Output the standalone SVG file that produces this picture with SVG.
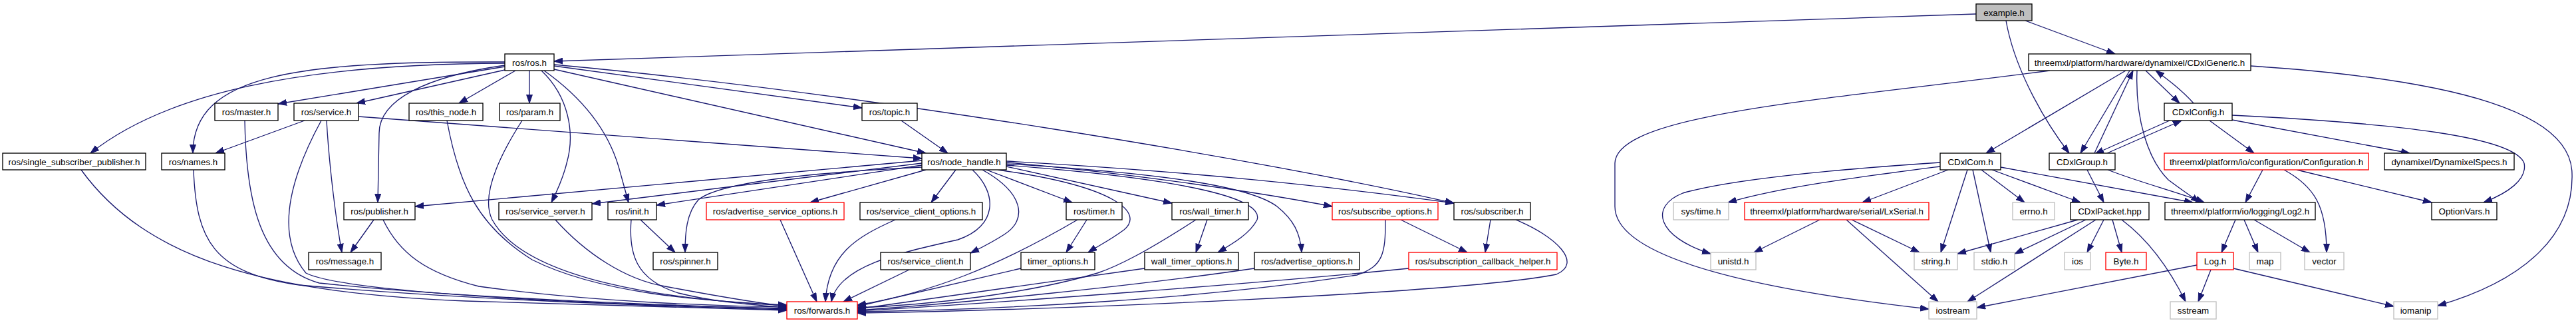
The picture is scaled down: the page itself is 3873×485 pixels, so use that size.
<svg xmlns="http://www.w3.org/2000/svg" width="3873" height="485" viewBox="0 0 3873 485">
<style>
.n rect{fill:#fff;stroke:#000;stroke-width:1.33}
.n.r rect{stroke:#f00}
.n.g rect{stroke:#bfbfbf}
.n.s rect{fill:#bfbfbf}
text{font-family:"Liberation Sans",Arial,Helvetica,sans-serif;font-size:13.33px;text-anchor:middle;fill:#000}
#edges path{fill:none;stroke:#191970;stroke-width:1.33;marker-end:url(#a)}
</style>
<defs>
<marker id="a" markerUnits="userSpaceOnUse" markerWidth="14" markerHeight="10" refX="13" refY="5" orient="auto"><path d="M0,0.5 L13,5 L0,9.5 z" fill="#191970" stroke="#191970" stroke-width="1"/></marker>
</defs>
<rect width="3873" height="485" fill="#fff"/>
<g id="edges">
<path d="M2971,21 L833,92"/>
<path d="M3045,31 L3180,81"/>
<path d="M3016,31 C3030,110 3080,190 3111,230"/>
<path d="M759,93 C450,92 290,110 290,230"/>
<path d="M759,95 C450,96 250,140 136,230"/>
<path d="M759,100 L418,156"/>
<path d="M759,105 L536,155"/>
<path d="M775,106 L690,155"/>
<path d="M796,106 L796,155"/>
<path d="M759,98 C640,115 570,150 570,200 L568,304"/>
<path d="M814,106 C855,145 865,200 852,245 C846,270 836,290 829,304"/>
<path d="M818,106 C880,150 915,200 930,250 C937,275 941,290 945,304"/>
<path d="M833,99 L1296,162"/>
<path d="M833,104 L1392,230"/>
<path d="M833,97 C1300,140 1900,240 2186,305"/>
<path d="M458,181 L324,230"/>
<path d="M539,175 L1386,238"/>
<path d="M491,181 C495,250 505,330 514,379"/>
<path d="M483,181 C440,260 410,350 460,410 C520,440 900,458 1183,463"/>
<path d="M1355,181 L1425,230"/>
<path d="M122,255 C220,390 400,440 700,452 C900,458 1100,463 1183,466"/>
<path d="M291,255 C295,360 320,410 450,428 C700,450 1000,460 1183,465"/>
<path d="M368,181 C370,300 390,400 480,425 C700,448 1000,458 1183,464"/>
<path d="M672,181 C690,280 720,340 800,390 C900,440 1050,452 1183,458"/>
<path d="M785,181 C760,220 720,290 740,330 C790,420 1000,450 1183,459"/>
<path d="M562,330 L527,379"/>
<path d="M576,330 C600,380 640,410 720,430 C900,455 1100,460 1183,461"/>
<path d="M835,330 C880,380 940,420 1000,430 C1080,445 1140,455 1183,460"/>
<path d="M949,330 C945,380 955,420 1020,440 C1080,455 1140,458 1183,462"/>
<path d="M963,330 L1015,379"/>
<path d="M1386,241 L624,310"/>
<path d="M1386,245 L890,306"/>
<path d="M1386,248 L987,308"/>
<path d="M1386,251 C1200,260 1080,275 1050,300 C1032,320 1030,350 1030,379"/>
<path d="M1392,255 L1218,304"/>
<path d="M1437,255 L1400,304"/>
<path d="M1477,255 C1540,290 1545,330 1510,352 C1490,365 1475,372 1459,380"/>
<path d="M1483,255 L1612,304"/>
<path d="M1500,255 C1680,280 1720,320 1690,345 C1670,360 1650,370 1636,379"/>
<path d="M1513,250 L1762,305"/>
<path d="M1513,248 C1800,270 1900,300 1890,330 C1880,350 1855,365 1831,379"/>
<path d="M1513,246 C1750,260 1880,280 1920,310 C1945,330 1955,350 1957,379"/>
<path d="M1513,244 C1700,260 1900,290 2003,310"/>
<path d="M1513,242 C1800,258 2000,280 2186,305"/>
<path d="M1462,255 C1500,290 1500,340 1440,360 C1350,380 1260,400 1250,453"/>
<path d="M1173,330 L1228,453"/>
<path d="M1346,330 C1290,355 1245,380 1241,453"/>
<path d="M1367,405 L1268,453"/>
<path d="M1634,330 L1603,379"/>
<path d="M1620,330 C1500,400 1400,440 1289,458"/>
<path d="M1815,330 L1798,379"/>
<path d="M1798,330 C1720,380 1680,400 1650,410 C1550,440 1400,458 1289,462"/>
<path d="M1535,403 L1289,460"/>
<path d="M1721,403 L1289,464"/>
<path d="M1886,403 C1700,430 1450,455 1289,466"/>
<path d="M2083,330 C2083,380 2080,400 2040,413 C1800,450 1500,465 1289,468"/>
<path d="M2106,330 L2206,379"/>
<path d="M2241,330 L2233,379"/>
<path d="M2279,330 C2340,355 2380,395 2340,412 C2200,440 1600,465 1289,470"/>
<path d="M2118,403 C1900,425 1500,455 1289,467"/>
<path d="M3196,106 L2986,230"/>
<path d="M3202,106 L3128,230"/>
<path d="M3149,230 L3207,106"/>
<path d="M3226,106 L3277,155"/>
<path d="M3298,155 C3280,135 3260,120 3241,106"/>
<path d="M3082,106 C2750,150 2430,170 2428,245 L2428,310 C2428,380 2600,430 2900,464"/>
<path d="M3384,99 C3700,120 3865,170 3867,260 C3870,350 3800,420 3665,459"/>
<path d="M3213,106 C3210,180 3230,240 3260,270 C3280,285 3295,295 3307,304"/>
<path d="M2917,250 C2800,265 2680,280 2598,304"/>
<path d="M2917,244 C2750,255 2600,270 2530,290 C2480,310 2490,355 2572,381"/>
<path d="M2929,255 L2800,304"/>
<path d="M2958,255 L2918,379"/>
<path d="M2966,255 L2993,379"/>
<path d="M2979,255 L3044,304"/>
<path d="M2995,255 L3128,304"/>
<path d="M3008,251 L3297,304"/>
<path d="M3138,255 L3163,304"/>
<path d="M3169,255 C3220,275 3280,290 3314,304"/>
<path d="M3168,230 L3280,181"/>
<path d="M3262,181 L3150,231"/>
<path d="M3322,181 L3389,230"/>
<path d="M3356,180 L3623,230"/>
<path d="M3356,173 C3600,185 3780,205 3795,245 C3800,270 3770,290 3734,304"/>
<path d="M3402,255 L3376,304"/>
<path d="M3434,255 C3480,280 3498,310 3498,379"/>
<path d="M3453,255 L3656,304"/>
<path d="M3361,330 L3340,379"/>
<path d="M3374,330 L3395,379"/>
<path d="M3389,330 L3473,379"/>
<path d="M3124,330 L2943,381"/>
<path d="M3136,330 L3029,381"/>
<path d="M3163,330 L3138,379"/>
<path d="M3176,330 L3190,379"/>
<path d="M3151,330 L2958,453"/>
<path d="M3190,330 C3230,360 3260,400 3286,453"/>
<path d="M2736,330 L2637,379"/>
<path d="M2776,330 L2914,453"/>
<path d="M2784,330 L2886,379"/>
<path d="M3324,405 L3305,453"/>
<path d="M3358,403 L3599,460"/>
<path d="M3303,398 L2972,462"/>
</g>
<g id="n_example" class="n s"><rect x="2971" y="6" width="84" height="25"/><text x="3013" y="23.5">example.h</text></g>
<g id="n_ros" class="n"><rect x="759" y="81" width="74" height="25"/><text x="796" y="98.5">ros/ros.h</text></g>
<g id="n_generic" class="n"><rect x="3050" y="81" width="334" height="25"/><text x="3217" y="98.5">threemxl/platform/hardware/dynamixel/CDxlGeneric.h</text></g>
<g id="n_master" class="n"><rect x="323" y="155" width="95" height="26"/><text x="370.5" y="172.5">ros/master.h</text></g>
<g id="n_service" class="n"><rect x="442" y="155" width="97" height="26"/><text x="490.5" y="172.5">ros/service.h</text></g>
<g id="n_this_node" class="n"><rect x="615" y="155" width="111" height="26"/><text x="670.5" y="172.5">ros/this_node.h</text></g>
<g id="n_param" class="n"><rect x="751" y="155" width="91" height="26"/><text x="796.5" y="172.5">ros/param.h</text></g>
<g id="n_topic" class="n"><rect x="1296" y="155" width="83" height="26"/><text x="1337.5" y="172.5">ros/topic.h</text></g>
<g id="n_config" class="n"><rect x="3254" y="155" width="102" height="26"/><text x="3305" y="172.5">CDxlConfig.h</text></g>
<g id="n_single" class="n"><rect x="4" y="230" width="215" height="25"/><text x="111.5" y="247.5">ros/single_subscriber_publisher.h</text></g>
<g id="n_names" class="n"><rect x="243" y="230" width="95" height="25"/><text x="290.5" y="247.5">ros/names.h</text></g>
<g id="n_node_handle" class="n"><rect x="1386" y="230" width="127" height="25"/><text x="1449.5" y="247.5">ros/node_handle.h</text></g>
<g id="n_com" class="n"><rect x="2917" y="230" width="91" height="25"/><text x="2962.5" y="247.5">CDxlCom.h</text></g>
<g id="n_group" class="n"><rect x="3081" y="230" width="99" height="25"/><text x="3130.5" y="247.5">CDxlGroup.h</text></g>
<g id="n_configuration" class="n r"><rect x="3254" y="230" width="307" height="25"/><text x="3407.5" y="247.5">threemxl/platform/io/configuration/Configuration.h</text></g>
<g id="n_specs" class="n"><rect x="3585" y="230" width="195" height="25"/><text x="3682.5" y="247.5">dynamixel/DynamixelSpecs.h</text></g>
<g id="n_publisher" class="n"><rect x="517" y="304" width="107" height="26"/><text x="570.5" y="321.5">ros/publisher.h</text></g>
<g id="n_service_server" class="n"><rect x="750" y="304" width="140" height="26"/><text x="820" y="321.5">ros/service_server.h</text></g>
<g id="n_init" class="n"><rect x="914" y="304" width="73" height="26"/><text x="950.5" y="321.5">ros/init.h</text></g>
<g id="n_adv_svc_opts" class="n r"><rect x="1062" y="304" width="207" height="26"/><text x="1165.5" y="321.5">ros/advertise_service_options.h</text></g>
<g id="n_svc_client_opts" class="n"><rect x="1293" y="304" width="184" height="26"/><text x="1385" y="321.5">ros/service_client_options.h</text></g>
<g id="n_timer" class="n"><rect x="1603" y="304" width="84" height="26"/><text x="1645" y="321.5">ros/timer.h</text></g>
<g id="n_wall_timer" class="n"><rect x="1762" y="304" width="115" height="26"/><text x="1819.5" y="321.5">ros/wall_timer.h</text></g>
<g id="n_subscribe_opts" class="n r"><rect x="2003" y="304" width="159" height="26"/><text x="2082.5" y="321.5">ros/subscribe_options.h</text></g>
<g id="n_subscriber" class="n"><rect x="2186" y="304" width="115" height="26"/><text x="2243.5" y="321.5">ros/subscriber.h</text></g>
<g id="n_systime" class="n g"><rect x="2516" y="304" width="83" height="26"/><text x="2557.5" y="321.5">sys/time.h</text></g>
<g id="n_lxserial" class="n r"><rect x="2623" y="304" width="277" height="26"/><text x="2761.5" y="321.5">threemxl/platform/hardware/serial/LxSerial.h</text></g>
<g id="n_errno" class="n g"><rect x="3026" y="304" width="63" height="26"/><text x="3057.5" y="321.5">errno.h</text></g>
<g id="n_packet" class="n"><rect x="3113" y="304" width="118" height="26"/><text x="3172" y="321.5">CDxlPacket.hpp</text></g>
<g id="n_log2" class="n"><rect x="3255" y="304" width="226" height="26"/><text x="3368" y="321.5">threemxl/platform/io/logging/Log2.h</text></g>
<g id="n_optionvars" class="n"><rect x="3656" y="304" width="98" height="26"/><text x="3705" y="321.5">OptionVars.h</text></g>
<g id="n_message" class="n"><rect x="464" y="379" width="109" height="26"/><text x="518.5" y="396.5">ros/message.h</text></g>
<g id="n_spinner" class="n"><rect x="982" y="379" width="97" height="26"/><text x="1030.5" y="396.5">ros/spinner.h</text></g>
<g id="n_service_client" class="n"><rect x="1324" y="379" width="135" height="26"/><text x="1391.5" y="396.5">ros/service_client.h</text></g>
<g id="n_timer_options" class="n"><rect x="1535" y="379" width="111" height="26"/><text x="1590.5" y="396.5">timer_options.h</text></g>
<g id="n_wall_timer_options" class="n"><rect x="1721" y="379" width="141" height="26"/><text x="1791.5" y="396.5">wall_timer_options.h</text></g>
<g id="n_advertise_options" class="n"><rect x="1886" y="379" width="158" height="26"/><text x="1965" y="396.5">ros/advertise_options.h</text></g>
<g id="n_callback_helper" class="n r"><rect x="2118" y="379" width="223" height="26"/><text x="2229.5" y="396.5">ros/subscription_callback_helper.h</text></g>
<g id="n_unistd" class="n g"><rect x="2572" y="379" width="68" height="26"/><text x="2606" y="396.5">unistd.h</text></g>
<g id="n_string" class="n g"><rect x="2878" y="379" width="65" height="26"/><text x="2910.5" y="396.5">string.h</text></g>
<g id="n_stdio" class="n g"><rect x="2968" y="379" width="61" height="26"/><text x="2998.5" y="396.5">stdio.h</text></g>
<g id="n_ios" class="n g"><rect x="3104" y="379" width="39" height="26"/><text x="3123.5" y="396.5">ios</text></g>
<g id="n_byte" class="n r"><rect x="3166" y="379" width="61" height="26"/><text x="3196.5" y="396.5">Byte.h</text></g>
<g id="n_log" class="n r"><rect x="3303" y="379" width="55" height="26"/><text x="3330.5" y="396.5">Log.h</text></g>
<g id="n_map" class="n g"><rect x="3382" y="379" width="47" height="26"/><text x="3405.5" y="396.5">map</text></g>
<g id="n_vector" class="n g"><rect x="3465" y="379" width="59" height="26"/><text x="3494.5" y="396.5">vector</text></g>
<g id="n_forwards" class="n r"><rect x="1183" y="453" width="106" height="26"/><text x="1236" y="470.5">ros/forwards.h</text></g>
<g id="n_iostream" class="n g"><rect x="2900" y="453" width="72" height="26"/><text x="2936" y="470.5">iostream</text></g>
<g id="n_sstream" class="n g"><rect x="3263" y="453" width="69" height="26"/><text x="3297.5" y="470.5">sstream</text></g>
<g id="n_iomanip" class="n g"><rect x="3599" y="453" width="66" height="26"/><text x="3632" y="470.5">iomanip</text></g>
</svg>
